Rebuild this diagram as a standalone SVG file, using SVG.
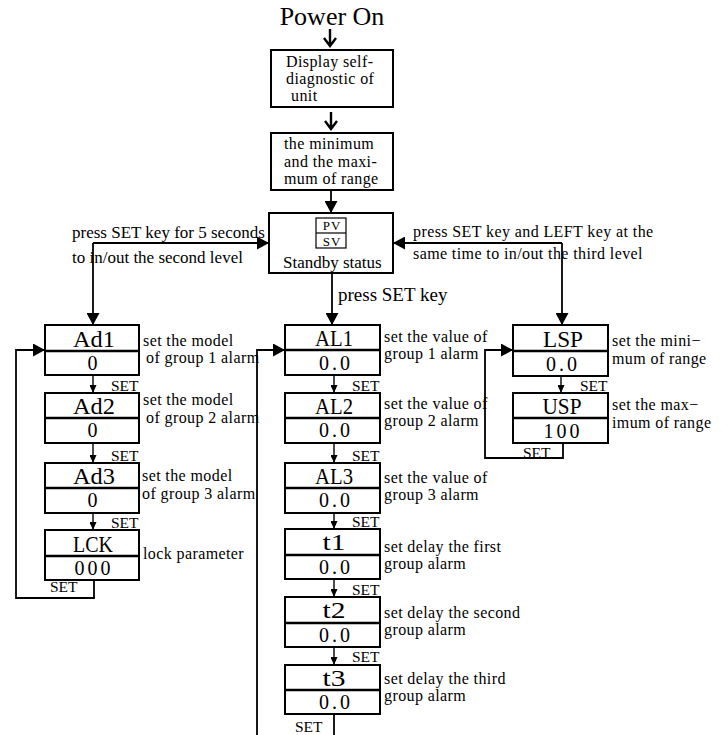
<svg xmlns="http://www.w3.org/2000/svg" width="722" height="735" viewBox="0 0 722 735">
<style>
text{font-family:"Liberation Serif","Times New Roman",serif;fill:#000}
.t{font-size:16px;letter-spacing:0.4px}
.t17{font-size:17px}
.big{font-size:19px}
.set{font-size:15.5px}
.lbl{font-size:24px;text-anchor:middle}
.val{font-size:20px;text-anchor:middle;letter-spacing:3px}
.box{fill:#fff;stroke:#000;stroke-width:2}
.dv{stroke:#000;stroke-width:2.5}
.ln{fill:none;stroke:#000;stroke-width:1.8}
.hd{fill:none;stroke:#000;stroke-width:2.4}
.sm{fill:none;stroke:#000;stroke-width:1.4}
.pv{font-size:13px;text-anchor:middle;letter-spacing:1px}
</style>
<defs>
<marker id="tri" markerUnits="userSpaceOnUse" markerWidth="13" markerHeight="13" refX="12" refY="6.5" orient="auto" viewBox="0 0 13 13">
<path d="M0,0 L12,6.5 L0,13 z" fill="#000"/>
</marker>
<marker id="stri" markerUnits="userSpaceOnUse" markerWidth="8" markerHeight="7" refX="8" refY="3.5" orient="auto" viewBox="0 0 8 7">
<path d="M0,0 L8,3.5 L0,7 z" fill="#000"/>
</marker>
</defs>

<text x="332" y="25" style="font-size:26px" text-anchor="middle">Power On</text>

<g id="connectors">
<path class="hd" d="M330,29 V46 M324,38 L330,46 L336,38"/>
<path class="hd" d="M331,112 V129 M325,121 L331,129 L337,121"/>
<path class="ln" d="M331,190 V213" marker-end="url(#tri)"/>
<path class="ln" d="M93,243 H269" marker-end="url(#tri)"/>
<path class="ln" d="M93,243 V325" marker-end="url(#tri)"/>
<path class="ln" d="M562,243 H393" marker-end="url(#tri)"/>
<path class="ln" d="M562,243 V325" marker-end="url(#tri)"/>
<path class="ln" d="M332,273 V325" marker-end="url(#tri)"/>
<path class="sm" d="M93,375 V393" marker-end="url(#stri)"/>
<path class="sm" d="M93,443 V463" marker-end="url(#stri)"/>
<path class="sm" d="M93,513 V530" marker-end="url(#stri)"/>
<path class="ln" d="M94,580 V598 H16 V350 H45" marker-end="url(#tri)"/>
<path class="sm" d="M334,375 V393" marker-end="url(#stri)"/>
<path class="sm" d="M334,443 V463" marker-end="url(#stri)"/>
<path class="sm" d="M334,513 V529" marker-end="url(#stri)"/>
<path class="sm" d="M334,579 V597" marker-end="url(#stri)"/>
<path class="sm" d="M334,647 V665" marker-end="url(#stri)"/>
<path class="ln" d="M334,714 V735"/>
<path class="ln" d="M257,735 V350 H285" marker-end="url(#tri)"/>
<path class="sm" d="M561,376 V393" marker-end="url(#stri)"/>
<path class="ln" d="M563,443 V458 H485 V350 H513" marker-end="url(#tri)"/>
<text class="t17" x="72" y="238">press SET key for 5 seconds</text>
<text class="t17" x="72" y="263">to in/out the second level</text>
<text class="t" x="413" y="237">press SET key and LEFT key at the</text>
<text class="t" x="413" y="259">same time to in/out the third level</text>
<text class="big" x="338" y="301">press SET key</text>
<text class="set" x="111" y="391">SET</text>
<text class="set" x="111" y="461">SET</text>
<text class="set" x="111" y="528">SET</text>
<text class="set" x="50" y="592">SET</text>
<text class="set" x="352" y="391">SET</text>
<text class="set" x="352" y="461">SET</text>
<text class="set" x="352" y="527">SET</text>
<text class="set" x="352" y="595">SET</text>
<text class="set" x="352" y="662">SET</text>
<text class="set" x="295" y="732">SET</text>
<text class="set" x="580" y="391">SET</text>
<text class="set" x="523" y="458">SET</text>
</g>

<g id="selfdiag">
<rect class="box" x="271" y="50" width="122" height="57"/>
<text class="t" x="286" y="67">Display self-</text>
<text class="t" x="286" y="84">diagnostic of</text>
<text class="t" x="291" y="101">unit</text>
</g>

<g id="range">
<rect class="box" x="271" y="133" width="122" height="57"/>
<text class="t" x="284" y="149">the minimum</text>
<text class="t" x="284" y="167">and the maxi-</text>
<text class="t" x="284" y="184">mum of range</text>
</g>

<g id="standby">
<rect class="box" x="269" y="213" width="124" height="60"/>
<rect x="316" y="218" width="30" height="30" fill="none" stroke="#000" stroke-width="1.2"/>
<line x1="316" y1="233" x2="346" y2="233" stroke="#000" stroke-width="1.2"/>
<text class="pv" x="332" y="230">PV</text>
<text class="pv" x="332" y="246">SV</text>
<text class="t17" x="283" y="268">Standby status</text>
</g>

<g id="Ad1">
<rect class="box" x="45" y="325" width="94" height="50"/>
<line class="dv" x1="45" y1="351" x2="139" y2="351"/>
<text class="lbl" x="94" y="347" textLength="42" lengthAdjust="spacingAndGlyphs">Ad1</text>
<text class="val" x="94" y="370">0</text>
<text class="t" x="143" y="346">set the model</text>
<text class="t" x="146" y="363">of group 1 alarm</text>
</g>
<g id="Ad2">
<rect class="box" x="45" y="393" width="94" height="50"/>
<line class="dv" x1="45" y1="418" x2="139" y2="418"/>
<text class="lbl" x="94" y="414" textLength="42" lengthAdjust="spacingAndGlyphs">Ad2</text>
<text class="val" x="94" y="437">0</text>
<text class="t" x="143" y="405">set the model</text>
<text class="t" x="146" y="423">of group 2 alarm</text>
</g>
<g id="Ad3">
<rect class="box" x="45" y="463" width="94" height="50"/>
<line class="dv" x1="45" y1="488" x2="139" y2="488"/>
<text class="lbl" x="94" y="484" textLength="42" lengthAdjust="spacingAndGlyphs">Ad3</text>
<text class="val" x="94" y="507">0</text>
<text class="t" x="142" y="481">set the model</text>
<text class="t" x="142" y="499">of group 3 alarm</text>
</g>
<g id="LCK">
<rect class="box" x="45" y="530" width="94" height="50"/>
<line class="dv" x1="45" y1="556" x2="139" y2="556"/>
<text class="lbl" x="93" y="552" textLength="40" lengthAdjust="spacingAndGlyphs">LCK</text>
<text class="val" x="94" y="575">000</text>
<text class="t" x="143" y="559">lock parameter</text>
</g>

<g id="AL1">
<rect class="box" x="285" y="325" width="95" height="50"/>
<line class="dv" x1="285" y1="350" x2="380" y2="350"/>
<text class="lbl" x="334" y="346" textLength="38" lengthAdjust="spacingAndGlyphs">AL1</text>
<text class="val" x="336" y="370">0.0</text>
<text class="t" x="384" y="342">set the value of</text>
<text class="t" x="384" y="359">group 1 alarm</text>
</g>
<g id="AL2">
<rect class="box" x="285" y="393" width="95" height="50"/>
<line class="dv" x1="285" y1="418" x2="380" y2="418"/>
<text class="lbl" x="334" y="414" textLength="38" lengthAdjust="spacingAndGlyphs">AL2</text>
<text class="val" x="336" y="437">0.0</text>
<text class="t" x="384" y="409">set the value of</text>
<text class="t" x="384" y="426">group 2 alarm</text>
</g>
<g id="AL3">
<rect class="box" x="285" y="463" width="95" height="50"/>
<line class="dv" x1="285" y1="488" x2="380" y2="488"/>
<text class="lbl" x="334" y="484" textLength="38" lengthAdjust="spacingAndGlyphs">AL3</text>
<text class="val" x="336" y="507">0.0</text>
<text class="t" x="384" y="483">set the value of</text>
<text class="t" x="384" y="500">group 3 alarm</text>
</g>
<g id="t1">
<rect class="box" x="285" y="529" width="95" height="50"/>
<line class="dv" x1="285" y1="555" x2="380" y2="555"/>
<text class="lbl" x="334" y="550" textLength="23" lengthAdjust="spacingAndGlyphs">t1</text>
<text class="val" x="336" y="574">0.0</text>
<text class="t" x="384" y="552">set delay the first</text>
<text class="t" x="384" y="569">group alarm</text>
</g>
<g id="t2">
<rect class="box" x="285" y="597" width="95" height="50"/>
<line class="dv" x1="285" y1="623" x2="380" y2="623"/>
<text class="lbl" x="334" y="618" textLength="23" lengthAdjust="spacingAndGlyphs">t2</text>
<text class="val" x="336" y="642">0.0</text>
<text class="t" x="384" y="618">set delay the second</text>
<text class="t" x="384" y="635">group alarm</text>
</g>
<g id="t3">
<rect class="box" x="285" y="665" width="95" height="49"/>
<line class="dv" x1="285" y1="690" x2="380" y2="690"/>
<text class="lbl" x="334" y="686" textLength="23" lengthAdjust="spacingAndGlyphs">t3</text>
<text class="val" x="336" y="709">0.0</text>
<text class="t" x="384" y="684">set delay the third</text>
<text class="t" x="384" y="701">group alarm</text>
</g>

<g id="LSP">
<rect class="box" x="513" y="325" width="95" height="51"/>
<line class="dv" x1="513" y1="351" x2="608" y2="351"/>
<text class="lbl" x="563" y="347" textLength="40" lengthAdjust="spacingAndGlyphs">LSP</text>
<text class="val" x="563" y="371">0.0</text>
<text class="t" x="612" y="346">set the mini−</text>
<text class="t" x="612" y="364">mum of range</text>
</g>
<g id="USP">
<rect class="box" x="513" y="393" width="95" height="50"/>
<line class="dv" x1="513" y1="418" x2="608" y2="418"/>
<text class="lbl" x="562" y="414" textLength="39" lengthAdjust="spacingAndGlyphs">USP</text>
<text class="val" x="563" y="438">100</text>
<text class="t" x="612" y="410">set the max−</text>
<text class="t" x="612" y="428">imum of range</text>
</g>
</svg>
